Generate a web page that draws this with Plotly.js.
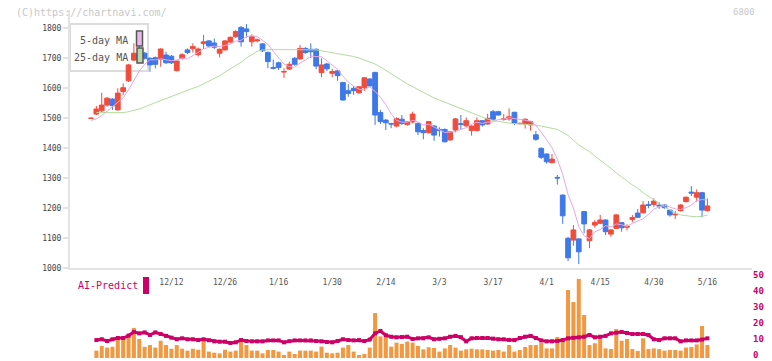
<!DOCTYPE html>
<html>
<head>
<meta charset="utf-8">
<script src="https://cdn.plot.ly/plotly-3.0.1.min.js"></script>
<style>html,body{margin:0;padding:0;background:#fff;}#chart{width:772px;height:361px;}</style>
</head>
<body>
<div id="chart"></div>
<script>
const dates = [
'2024-11-21','2024-11-22','2024-11-25','2024-11-26','2024-11-27','2024-11-28','2024-11-29','2024-12-02','2024-12-03','2024-12-04',
'2024-12-05','2024-12-06','2024-12-09','2024-12-10','2024-12-11','2024-12-12','2024-12-13','2024-12-16','2024-12-17','2024-12-18',
'2024-12-19','2024-12-20','2024-12-23','2024-12-24','2024-12-25','2024-12-26','2024-12-27','2024-12-30','2025-01-06','2025-01-07',
'2025-01-08','2025-01-09','2025-01-10','2025-01-14','2025-01-15','2025-01-16','2025-01-17','2025-01-20','2025-01-21','2025-01-22',
'2025-01-23','2025-01-24','2025-01-27','2025-01-28','2025-01-29','2025-01-30','2025-01-31','2025-02-03','2025-02-04','2025-02-05',
'2025-02-06','2025-02-07','2025-02-10','2025-02-12','2025-02-13','2025-02-14','2025-02-17','2025-02-18','2025-02-19','2025-02-20',
'2025-02-21','2025-02-25','2025-02-26','2025-02-27','2025-02-28','2025-03-03','2025-03-04','2025-03-05','2025-03-06','2025-03-07',
'2025-03-10','2025-03-11','2025-03-12','2025-03-13','2025-03-14','2025-03-17','2025-03-18','2025-03-19','2025-03-21','2025-03-24',
'2025-03-25','2025-03-26','2025-03-27','2025-03-28','2025-03-31','2025-04-01','2025-04-02','2025-04-03','2025-04-04','2025-04-07',
'2025-04-08','2025-04-09','2025-04-10','2025-04-11','2025-04-14','2025-04-15','2025-04-16','2025-04-17','2025-04-18','2025-04-21',
'2025-04-22','2025-04-23','2025-04-24','2025-04-25','2025-04-28','2025-04-30','2025-05-01','2025-05-02','2025-05-07','2025-05-08',
'2025-05-09','2025-05-12','2025-05-13','2025-05-14','2025-05-15','2025-05-16'];

const openP = [
1499,1513,1524,1543,1563,1527,1588,1624,1693,1713,
1716,1699,1701,1696,1710,1706,1658,1698,1727,1731,
1711,1748,1757,1750,1716,1727,1753,1771,1802,1797,
1754,1757,1747,1718,1668,1684,1653,1663,1699,1697,
1732,1729,1729,1651,1680,1649,1657,1618,1591,1599,
1584,1601,1630,1652,1518,1493,1481,1473,1496,1478,
1487,1482,1458,1451,1473,1462,1462,1427,1460,1481,
1474,1458,1458,1491,1480,1521,1521,1495,1497,1519,
1481,1480,1477,1444,1399,1380,1351,1302,1243,1099,
1093,1097,1188,1091,1143,1149,1160,1113,1132,1151,
1136,1162,1183,1184,1211,1212,1209,1210,1193,1177,
1191,1221,1253,1236,1251,1191];

const highP = [
1502,1540,1584,1570,1566,1599,1615,1680,1749,1743,
1720,1703,1705,1732,1721,1710,1692,1716,1732,1749,
1735,1777,1760,1765,1732,1760,1772,1793,1807,1813,
1779,1765,1750,1722,1695,1688,1666,1688,1703,1743,
1736,1749,1732,1699,1684,1664,1660,1620,1613,1606,
1606,1636,1633,1654,1527,1496,1484,1502,1510,1490,
1521,1485,1466,1490,1477,1469,1465,1457,1500,1510,
1502,1476,1502,1493,1514,1527,1524,1513,1532,1521,
1485,1498,1490,1457,1402,1382,1380,1310,1245,1104,
1143,1099,1190,1130,1160,1177,1162,1130,1179,1153,
1146,1177,1197,1223,1223,1232,1219,1213,1195,1190,
1213,1238,1273,1262,1254,1232];

const lowP = [
1497,1510,1520,1538,1527,1525,1577,1620,1690,1690,
1695,1654,1665,1671,1680,1680,1655,1695,1713,1718,
1705,1730,1735,1730,1702,1725,1750,1766,1738,1768,
1738,1752,1720,1666,1662,1660,1634,1660,1674,1694,
1714,1699,1663,1636,1657,1636,1624,1558,1571,1577,
1580,1590,1604,1477,1480,1460,1466,1469,1477,1475,
1482,1443,1429,1448,1424,1438,1418,1424,1452,1462,
1470,1441,1455,1471,1478,1491,1508,1491,1491,1477,
1479,1465,1458,1424,1363,1348,1349,1278,1147,1023,
1074,1013,1116,1066,1134,1146,1110,1104,1130,1121,
1125,1152,1166,1181,1199,1204,1197,1198,1171,1163,
1188,1219,1240,1221,1169,1188];

const closeP = [
1499,1530,1543,1566,1541,1583,1601,1677,1716,1701,
1699,1677,1679,1730,1684,1684,1690,1711,1718,1738,
1730,1754,1740,1736,1729,1757,1769,1788,1754,1788,
1771,1760,1724,1688,1666,1668,1655,1679,1679,1732,
1718,1721,1673,1677,1664,1655,1641,1560,1582,1591,
1604,1634,1607,1510,1488,1484,1480,1498,1482,1487,
1513,1454,1451,1488,1443,1458,1421,1454,1497,1479,
1491,1473,1491,1477,1499,1496,1510,1497,1504,1482,
1482,1496,1488,1429,1369,1354,1363,1300,1174,1034,
1127,1054,1147,1127,1152,1160,1121,1127,1177,1134,
1138,1168,1169,1210,1209,1223,1207,1201,1177,1179,
1210,1236,1250,1251,1193,1207];

const ma5 = [
1492,1497,1508,1522,1536,1553,1567,1594,1624,1656,
1679,1694,1694,1697,1694,1691,1693,1700,1697,1708,
1717,1730,1736,1740,1738,1743,1746,1756,1759,1771,
1774,1772,1759,1746,1722,1701,1680,1671,1669,1683,
1693,1706,1705,1704,1691,1678,1662,1639,1620,1606,
1596,1594,1604,1589,1569,1545,1514,1492,1486,1486,
1492,1487,1477,1479,1470,1459,1452,1453,1455,1462,
1468,1479,1486,1482,1486,1487,1495,1496,1501,1498,
1495,1492,1490,1475,1453,1427,1401,1363,1312,1245,
1200,1138,1107,1098,1121,1128,1141,1137,1147,1144,
1139,1149,1157,1164,1179,1196,1204,1210,1203,1197,
1195,1201,1210,1225,1228,1227];

const ma25 = [
null,1518,1518,1518,1518,1518,1518,1521,1525,1530,
1537,1545,1551,1558,1565,1573,1580,1587,1593,1599,
1605,1614,1622,1632,1641,1653,1664,1675,1686,1700,
1712,1722,1727,1728,1728,1728,1728,1728,1728,1728,
1728,1728,1727,1724,1721,1718,1716,1713,1709,1705,
1700,1694,1687,1680,1670,1658,1648,1637,1625,1614,
1604,1595,1585,1576,1567,1560,1553,1546,1539,1532,
1525,1517,1510,1502,1496,1492,1488,1486,1483,1482,
1481,1480,1479,1476,1473,1470,1466,1462,1452,1442,
1426,1410,1399,1388,1373,1360,1345,1332,1317,1302,
1290,1277,1266,1251,1238,1226,1215,1204,1192,1183,
1177,1174,1172,1171,1172,1177];

const volume = [
null,4.6,7.5,6.5,7,11.7,11.7,14.4,18.8,11.9,
7,8.1,6.5,10.8,8.1,5.8,8.1,5.8,4.6,5.8,
5.2,11.2,4,3.3,2.9,5.2,4,4.6,12.3,8.1,
4.6,4.6,2.9,5,5,4,1.9,4,2.5,4.6,
4.6,4.6,4,7.1,3.3,2.9,3.3,6.5,8.1,4,
1.9,2.5,6.5,28.1,13.5,13.1,7.1,9.6,8.8,10.3,
9.6,7.5,5.4,6.7,6.3,4,6,8.1,6.5,4.6,
5.4,5.8,5.4,5.4,5,4.6,5,4,8.1,4,
5,6.9,8.1,8.1,9.6,6,6,13.1,10.8,42.5,
35,49.4,26.9,8.1,9.2,13.1,6,5.6,18.1,10.8,
11.9,5.6,4.4,12.3,5.6,6,5.6,4.6,5,5,
4.6,6.5,6.9,8.5,20,8.1];

const aiPredict = [
null,11.2,11.7,10.6,11.7,12.5,12.5,14,16.3,15.4,
16,14.4,16,15,13.8,12.7,11.7,12.3,11.7,11.7,
11.2,11.7,11.1,10.4,10.2,10.2,9.4,9.8,11.2,10.6,
10.4,10.4,10.4,11,11,11,9.8,10.5,11,11,
11,11,10.6,10.4,10,9.8,10.6,11.7,11.2,11,
11.2,10.6,11.5,15.4,16.9,14.2,13.3,12.9,13.1,13.3,
11.9,12.3,12.3,12.9,11.7,12,12.3,13.3,13.8,13,
10.4,12.3,12.5,12.5,12.5,12.1,11.7,11.7,11.3,11.2,
12.5,13.3,13.8,12.5,11,10.4,10.4,10.6,11.2,12.3,
12.6,12.9,13.3,14.4,12.9,13.3,13.8,15.4,15.8,16.3,
15.6,15,15,15,14.4,11.7,11.2,12.3,12.3,12.3,
10.4,11,11,11,11.5,12.3];

const tickDates = ['2024-12-12','2024-12-26','2025-01-16','2025-01-30','2025-02-14','2025-03-03','2025-03-17','2025-04-01','2025-04-15','2025-04-30','2025-05-16'];
const tickLabels = ['12/12','12/26','1/16','1/30','2/14','3/3','3/17','4/1','4/15','4/30','5/16'];
const priceTicks = [1000,1100,1200,1300,1400,1500,1600,1700,1800];
const aiTicks = [0,10,20,30,40,50];
const legendNames = ['5-day MA','25-day MA'];

const MONO = 'DejaVu Sans Mono';
const PW = 682, PH = 348, ML = 70, MT = 10;
const px = v => (v - ML) / PW;
const py = v => (MT + PH - v) / PH;

const traces = [
  {type:'scatter', mode:'lines', x:dates, y:ma25, xaxis:'x', yaxis:'y',
   line:{color:'#b4dca0', width:1}, hoverinfo:'skip', connectgaps:false},
  {type:'scatter', mode:'lines', x:dates, y:ma5, xaxis:'x', yaxis:'y',
   line:{color:'#e6a8e6', width:1}, hoverinfo:'skip'},
  {type:'candlestick', x:dates, open:openP, high:highP, low:lowP, close:closeP,
   xaxis:'x', yaxis:'y',
   increasing:{line:{color:'#f04c3c', width:1}, fillcolor:'#f04c3c'},
   decreasing:{line:{color:'#3f78e8', width:1}, fillcolor:'#3f78e8'},
   whiskerwidth:0},
  {type:'bar', x:dates, y:volume, xaxis:'x2', yaxis:'y2',
   marker:{color:'#f29840', line:{width:0}}},
  {type:'scatter', mode:'lines+markers', x:dates, y:aiPredict, xaxis:'x2', yaxis:'y3',
   line:{color:'#cc0066', width:3}, marker:{symbol:'square', size:4, color:'#cc0066'}}
];

const layout = {
  width:772, height:361,
  margin:{l:ML, r:20, t:MT, b:3, pad:0},
  paper_bgcolor:'#fff', plot_bgcolor:'rgba(0,0,0,0)',
  showlegend:false, boxgap:0.12, boxgroupgap:0, bargap:0.25,
  font:{family:MONO, color:'#555'},
  xaxis:{type:'category', domain:[0,1], anchor:'y', range:[-3.92,123.32],
    tickvals:tickDates, ticktext:tickLabels, ticks:'', showline:true, linecolor:'#e3e3e3', linewidth:2,
    showgrid:false, zeroline:false, tickfont:{family:MONO, size:8, color:'#555'},
    ticklabelstandoff:5, rangeslider:{visible:false}, fixedrange:true},
  xaxis3:{overlaying:'x', anchor:'y', range:[0,PW], tickvals:[63,124,186,248,310,372,434,496,558,620,682],
    ticks:'inside', ticklen:4, tickwidth:2, tickcolor:'#e3e3e3', showticklabels:false,
    showline:false, showgrid:false, zeroline:false, fixedrange:true},
  yaxis:{domain:[py(268),1], anchor:'x', range:[1000,1860], tickvals:priceTicks,
    ticks:'outside', ticklen:5, tickwidth:2, tickcolor:'#e3e3e3', showline:true, linecolor:'#e3e3e3', linewidth:2,
    showgrid:false, zeroline:false, tickfont:{family:MONO, size:8, color:'#444'}, fixedrange:true},
  xaxis2:{type:'category', domain:[0,1], anchor:'y2', matches:'x', showticklabels:false, ticks:'',
    showline:false, showgrid:false, zeroline:false, fixedrange:true},
  yaxis2:{domain:[0,py(278)], anchor:'x2', range:[0,50], showticklabels:false, ticks:'',
    showline:false, showgrid:false, zeroline:false, fixedrange:true},
  yaxis3:{overlaying:'y2', anchor:'x2', side:'right', range:[0,50], tickvals:aiTicks,
    ticks:'', showline:false, showgrid:false, zeroline:false, ticklabeloverflow:'allow', ticklabelshift:-3,
    tickfont:{family:MONO, size:9, color:'#cc0066', weight:'bold'}, fixedrange:true},
  shapes:[
    {type:'rect', xref:'paper', yref:'paper', x0:px(70), x1:px(148), y0:py(71), y1:py(24),
     line:{color:'#dcdcdc', width:2}, fillcolor:'rgba(255,255,255,0)', layer:'below'},
    {type:'rect', xref:'paper', yref:'paper', x0:px(136.5), x1:px(142.5), y0:py(46), y1:py(31),
     line:{color:'#555', width:1.5}, fillcolor:'#e8b8e8', layer:'above'},
    {type:'rect', xref:'paper', yref:'paper', x0:px(137), x1:px(143), y0:py(63), y1:py(48),
     line:{color:'#555', width:1.5}, fillcolor:'#b8d8a8', layer:'above'},
    {type:'rect', xref:'paper', yref:'paper', x0:px(143), x1:px(149), y0:py(294), y1:py(277),
     line:{width:0}, fillcolor:'#cc0066', layer:'above'}
  ],
  annotations:[
    {xref:'paper', yref:'paper', x:px(14), y:py(12), xanchor:'left', yanchor:'middle', showarrow:false,
     text:'(C)https://chartnavi.com/', font:{family:MONO, size:10, color:'#c8c8c8'}},
    {xref:'paper', yref:'paper', x:px(757), y:py(12), xanchor:'right', yanchor:'middle', showarrow:false,
     text:'6800', font:{family:MONO, size:9, color:'#c8c8c8'}},
    {xref:'paper', yref:'paper', x:px(130), y:py(40.5), xanchor:'right', yanchor:'middle', showarrow:false,
     text:legendNames[0], font:{family:MONO, size:10, color:'#555'}},
    {xref:'paper', yref:'paper', x:px(130), y:py(57), xanchor:'right', yanchor:'middle', showarrow:false,
     text:legendNames[1], font:{family:MONO, size:10, color:'#555'}},
    {xref:'paper', yref:'paper', x:px(76), y:py(285), xanchor:'left', yanchor:'middle', showarrow:false,
     text:'AI-Predict', font:{family:MONO, size:10, color:'#cc0066'}}
  ]
};

Plotly.newPlot('chart', traces, layout, {displayModeBar:false, staticPlot:true});
</script>
</body>
</html>
